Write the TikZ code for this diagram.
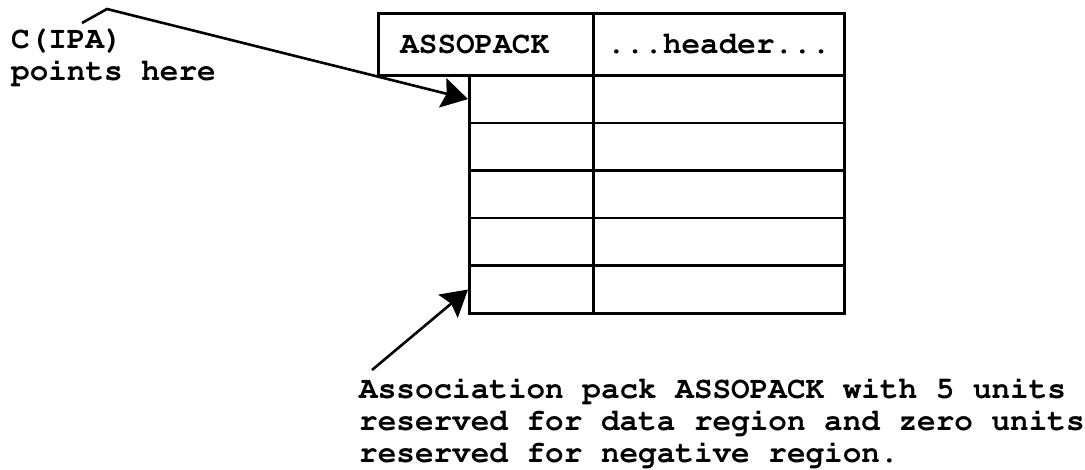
\documentclass[tikz,border=0pt]{standalone}
\usepackage[T1]{fontenc}
\renewcommand{\ttdefault}{pcr}
\usepackage{tikz}
\usetikzlibrary{arrows.meta}

\tikzset{
  cell/.style={draw, line width=2.6pt, inner sep=0pt, minimum height=47.6pt, anchor=north west,
    font=\ttfamily\bfseries\fontsize{31}{31}\selectfont},
  txt/.style={align=left, inner sep=0pt, anchor=north west,
    font=\ttfamily\bfseries\fontsize{31}{32}\selectfont},
  ptr/.style={line width=2.6pt, -{Stealth[length=26pt,width=30pt,inset=4pt]}}
}

\begin{document}
\begin{tikzpicture}[x=1pt,y=-1pt]
   \useasboundingbox (0,0) rectangle (1085,470);

   % header of the pack
   \draw (377,12) node[cell, minimum width=215pt, minimum height=62pt,
      inner xsep=22pt, text width=171pt, align=left] (assopack) {ASSOPACK};
   \draw (592,12) node[cell, minimum width=251pt, minimum height=62pt] (header) {...header...};

   % data region, 5 units
   \foreach \i [evaluate=\i as \y using 74+47.6*(\i-1)] in {1,...,5} {
      \draw (468,\y) node[cell, minimum width=124pt] (unit\i) {};
      \draw (592,\y) node[cell, minimum width=251pt] (word\i) {};
   }

   \draw (11,29) node[txt] (ipa) {C(IPA)\\points here};
   \draw (359,378) node[txt] (assoc) {Association pack ASSOPACK with 5 units\\reserved for data region and zero units\\reserved for negative region.};

   \coordinate (ipafrom) at (82,23);
   \coordinate (ipabend) at (107,9);
   \coordinate (assocfrom) at (372,370);

   \draw[ptr] (ipafrom) -- (ipabend) -- (unit1.west);
   \draw[ptr] (assocfrom) -- (unit5.west);

\end{tikzpicture}
\end{document}
